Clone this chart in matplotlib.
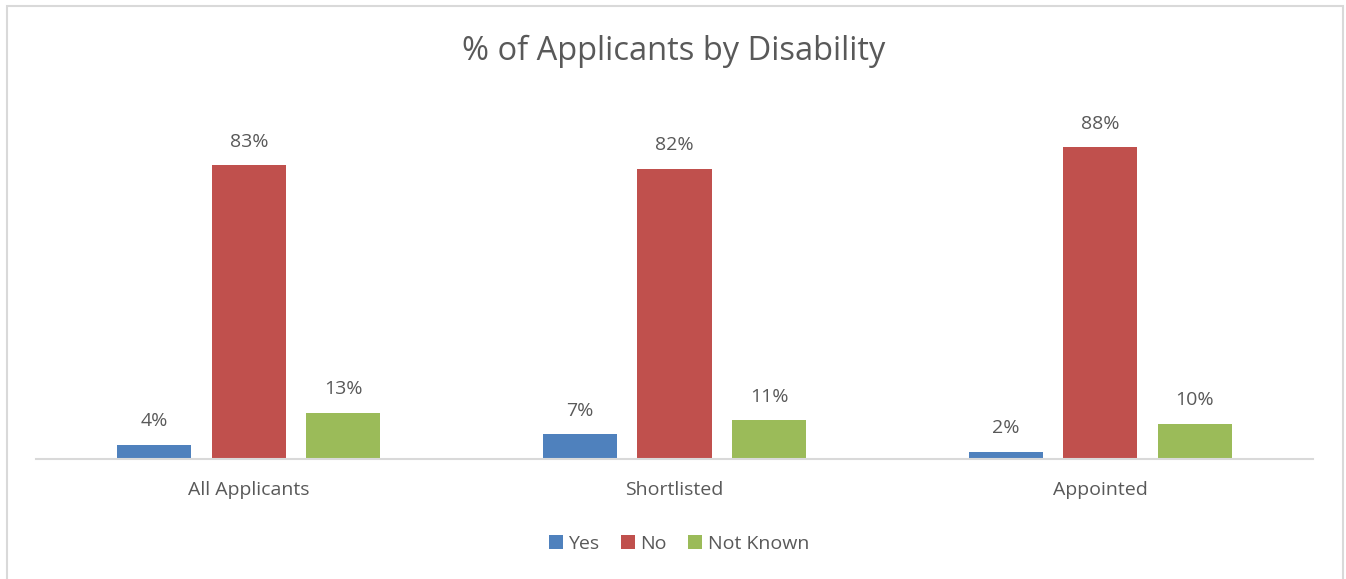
import matplotlib
matplotlib.use("Agg")
import matplotlib.pyplot as plt
from matplotlib.patches import Rectangle
import numpy as np

categories = ["All Applicants", "Shortlisted", "Appointed"]
series_names = ["Yes", "No", "Not Known"]
yes_vals = [4, 7, 2]
no_vals = [83, 82, 88]
not_known_vals = [13, 11, 10]
colors = ["#4F81BD", "#C0504D", "#9BBB59"]

plt.rcParams["font.family"] = ["Open Sans", "DejaVu Sans"]
text_color = "#595959"

W, H = 1346, 579
fig = plt.figure(figsize=(W / 100, H / 100), dpi=100)
fig.patch.set_facecolor("white")

# chart frame
fig.add_artist(Rectangle((6.5 / W, -0.01), (1343 - 6.5) / W, 1 - 6.5 / H + 0.01,
                         transform=fig.transFigure, fill=False,
                         edgecolor="#d9d9d9", linewidth=1.5))

ax = fig.add_axes([36 / W, 1 - 459 / H, (1313 - 36) / W, (459 - 105) / H])
x = np.arange(len(categories))
width = 0.174
step = 0.222
for i, (vals, name, c) in enumerate(zip([yes_vals, no_vals, not_known_vals],
                                         series_names, colors)):
    pos = x + (i - 1) * step
    ax.bar(pos, vals, width, color=c, label=name, zorder=2)
    for p, v in zip(pos, vals):
        ax.text(p, v + 4.1, f"{v}%", ha="center", va="bottom",
                fontsize=14, color=text_color)

ax.set_xlim(-0.5, 2.5)
ax.set_ylim(0, 100)
ax.set_yticks([])
ax.set_xticks(x)
ax.set_xticklabels(categories, fontsize=14, color=text_color)
ax.tick_params(axis="x", length=0, pad=16)
for s in ["top", "left", "right"]:
    ax.spines[s].set_visible(False)
ax.spines["bottom"].set_color("#d9d9d9")
ax.spines["bottom"].set_linewidth(1.5)
ax.spines["bottom"].set_zorder(3)

fig.text(674 / W, 1 - 51 / H, "% of Applicants by Disability", ha="center",
         va="center", fontsize=23.5, color=text_color)

leg = fig.legend(loc="center", bbox_to_anchor=(679 / W, 1 - 544 / H), ncol=3,
                 frameon=False, fontsize=14, handlelength=0.7,
                 handleheight=0.7, handletextpad=0.3, columnspacing=1.1)
for t in leg.get_texts():
    t.set_color(text_color)

fig.savefig("out.png", dpi=100)
